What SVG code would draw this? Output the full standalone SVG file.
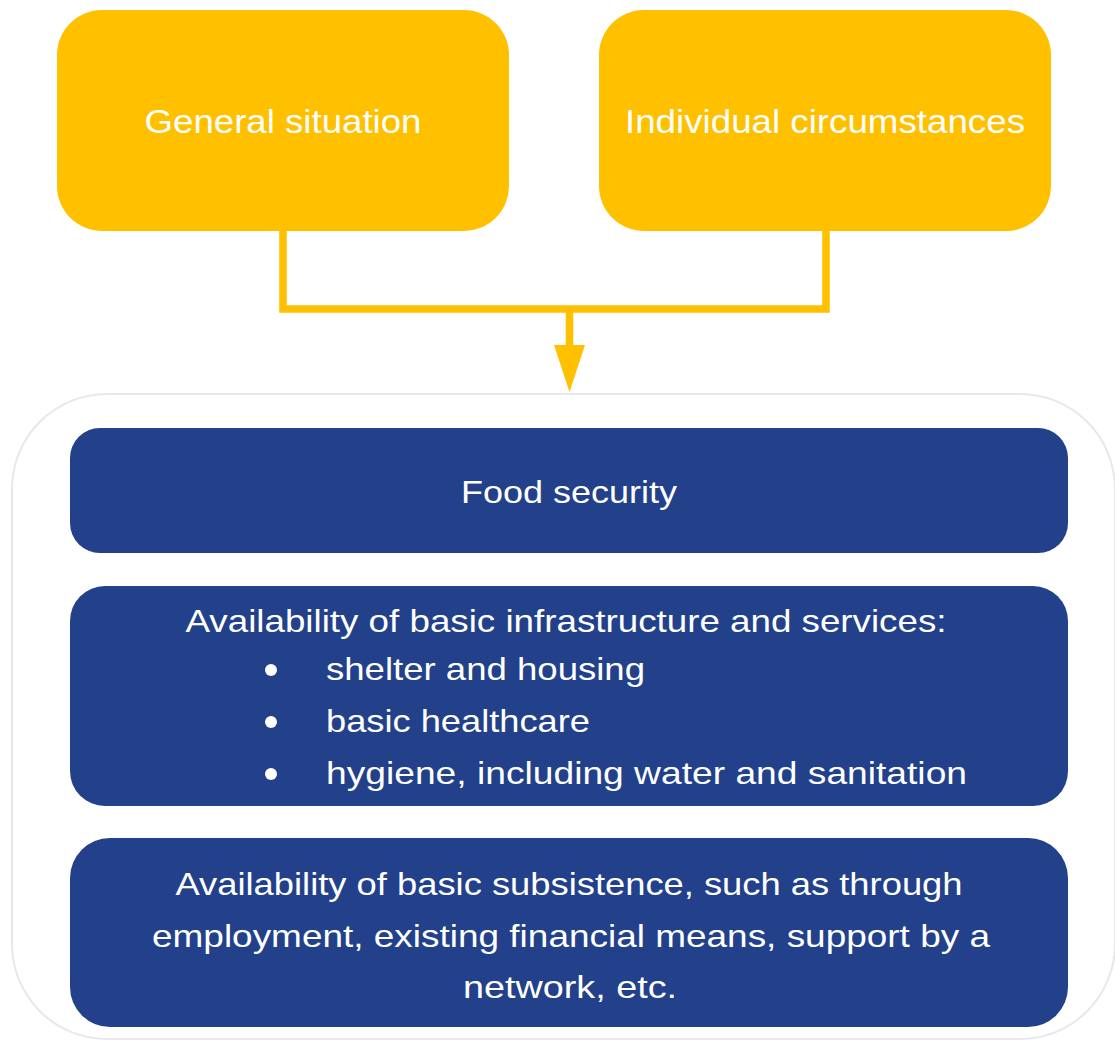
<svg xmlns="http://www.w3.org/2000/svg" width="1115" height="1041" viewBox="0 0 1115 1041">
<style>
.y{fill:#FFC000}
.b{fill:#22418A}
.t{font-family:"Liberation Sans",Arial,sans-serif;fill:#fff;font-size:32px}
.ty{font-family:"Liberation Sans",Arial,sans-serif;fill:#fff;font-size:34px}
.c{fill:none;stroke:#FFC000;stroke-width:7.5}
</style>
<rect x="12" y="394" width="1103" height="645" rx="95" fill="#fff" stroke="#E6E8EE" stroke-width="2"/>
<g id="general">
<rect class="y" x="57" y="10" width="452" height="221" rx="45"/>
<text class="ty" x="283" y="133" text-anchor="middle" textLength="277" lengthAdjust="spacingAndGlyphs">General situation</text>
</g>
<g id="individual">
<rect class="y" x="599" y="10" width="452" height="221" rx="45"/>
<text class="ty" x="825" y="133" text-anchor="middle" textLength="400" lengthAdjust="spacingAndGlyphs">Individual circumstances</text>
</g>
<g id="connectors">
<polyline class="c" points="283,231 283,309 826,309 826,231"/>
<line class="c" x1="569.5" y1="309" x2="569.5" y2="347"/>
<polygon fill="#FFC000" points="554,345 585,345 569.5,392"/>
</g>
<g id="food">
<rect class="b" x="70" y="428" width="998" height="125" rx="30"/>
<text class="t" x="569" y="503" text-anchor="middle" textLength="216" lengthAdjust="spacingAndGlyphs">Food security</text>
</g>
<g id="infrastructure">
<rect class="b" x="70" y="586" width="998" height="220" rx="35"/>
<text class="t" x="566" y="632" text-anchor="middle" textLength="761" lengthAdjust="spacingAndGlyphs">Availability of basic infrastructure and services:</text>
<circle cx="271" cy="670" r="6" fill="#fff"/>
<circle cx="271" cy="722" r="6" fill="#fff"/>
<circle cx="271" cy="774" r="6" fill="#fff"/>
<text class="t" x="326" y="680" textLength="319" lengthAdjust="spacingAndGlyphs">shelter and housing</text>
<text class="t" x="326" y="732" textLength="264" lengthAdjust="spacingAndGlyphs">basic healthcare</text>
<text class="t" x="326" y="784" textLength="641" lengthAdjust="spacingAndGlyphs">hygiene, including water and sanitation</text>
</g>
<g id="subsistence">
<rect class="b" x="70" y="838" width="998" height="189" rx="40"/>
<text class="t" x="569" y="895" text-anchor="middle" textLength="787" lengthAdjust="spacingAndGlyphs">Availability of basic subsistence, such as through</text>
<text class="t" x="571" y="947" text-anchor="middle" textLength="838" lengthAdjust="spacingAndGlyphs">employment, existing financial means, support by a</text>
<text class="t" x="570" y="998" text-anchor="middle" textLength="214" lengthAdjust="spacingAndGlyphs">network, etc.</text>
</g>
</svg>
